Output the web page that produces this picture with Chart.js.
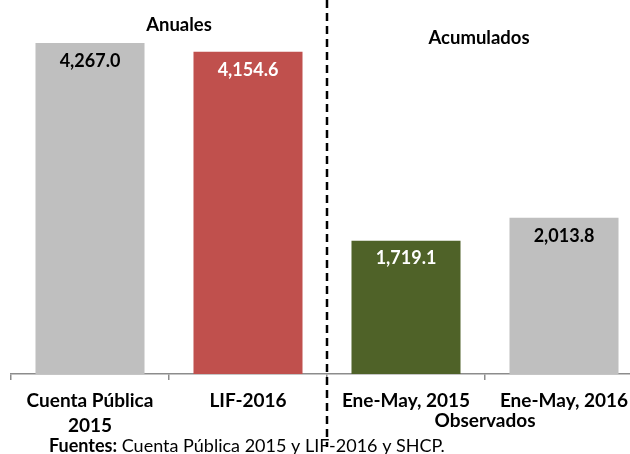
<!DOCTYPE html>
<html>
<head>
  <meta charset="utf-8">
  <title>Anuales y Acumulados</title>
  <style>
    html, body {
      margin: 0;
      padding: 0;
      width: 630px;
      height: 454px;
      overflow: hidden;
      background: #ffffff;
    }
    .chart-container {
      position: relative;
      width: 660px;
      height: 454px;
    }
    canvas {
      display: block;
    }
  </style>
  <script src="https://cdn.jsdelivr.net/npm/chart.js"></script>
</head>
<body>
  <div class="chart-container">
    <canvas id="barChart" width="660" height="454"></canvas>
  </div>
  <script>
    // Chart data
    const categories = [['Cuenta Pública', '2015'], 'LIF-2016', 'Ene-May, 2015', 'Ene-May, 2016'];
    const values = [4267.0, 4154.6, 1719.1, 2013.8];
    const barColors = ['#BFBFBF', '#C0504D', '#4F6228', '#BFBFBF'];
    const labelColors = ['#000000', '#ffffff', '#ffffff', '#000000'];
    const groupLabels = ['Anuales', 'Acumulados', 'Observados'];
    const sourceNote = ['Fuentes:', ' Cuenta Pública 2015 y LIF-2016 y SHCP.'];

    const fontFamily = 'Lato, "Open Sans", sans-serif';

    // Helper to format numbers like 4,267.0
    function formatValue(v) {
      return v.toLocaleString('en-US', { minimumFractionDigits: 1, maximumFractionDigits: 1 });
    }

    // Plugin: value labels inside bars, separators and notes
    const extrasPlugin = {
      id: 'extras',
      afterDatasetsDraw(chart) {
        const ctx = chart.ctx;
        const meta = chart.getDatasetMeta(0);
        ctx.save();
        ctx.font = 'bold 18px ' + fontFamily;
        ctx.textAlign = 'center';
        ctx.textBaseline = 'middle';
        meta.data.forEach((bar, i) => {
          ctx.fillStyle = labelColors[i];
          ctx.fillText(formatValue(values[i]), bar.x, bar.y + 18);
        });
        ctx.restore();
      },
      afterDraw(chart) {
        const ctx = chart.ctx;
        const x = chart.scales.x;
        ctx.save();

        // dashed divider between annual and accumulated
        const divX = Math.round(x.getPixelForValue(1.5));
        ctx.strokeStyle = '#000000';
        ctx.lineWidth = 2.5;
        ctx.setLineDash([8, 5]);
        ctx.beginPath();
        ctx.moveTo(divX, 0);
        ctx.lineTo(divX, 447);
        ctx.stroke();
        ctx.setLineDash([]);

        // group titles
        ctx.fillStyle = '#000000';
        ctx.font = 'bold 18.5px ' + fontFamily;
        ctx.textAlign = 'center';
        ctx.textBaseline = 'alphabetic';
        ctx.fillText(groupLabels[0], 179, 31);
        ctx.fillText(groupLabels[1], 479, 44);
        ctx.font = 'bold 19px ' + fontFamily;
        ctx.fillText(groupLabels[2], x.getPixelForValue(2.5), 427);

        // source note
        ctx.textAlign = 'left';
        ctx.font = 'bold 18px ' + fontFamily;
        ctx.fillText(sourceNote[0], 49, 452);
        const w = ctx.measureText(sourceNote[0]).width;
        ctx.font = '18px ' + fontFamily;
        ctx.fillText(sourceNote[1], 49 + w, 452);

        ctx.restore();
      }
    };

    const ctx = document.getElementById('barChart').getContext('2d');
    new Chart(ctx, {
      type: 'bar',
      data: {
        labels: categories,
        datasets: [{
          data: values,
          backgroundColor: barColors,
          borderWidth: 0,
          categoryPercentage: 1.0,
          barPercentage: 0.69
        }]
      },
      options: {
        responsive: false,
        animation: false,
        layout: {
          padding: { top: 25, left: 11, right: 17, bottom: 0 }
        },
        plugins: {
          legend: { display: false },
          tooltip: { enabled: false }
        },
        scales: {
          x: {
            offset: true,
            afterFit(scale) { scale.height = 80; },
            border: { display: true, color: '#8c8c8c', width: 1.5 },
            grid: {
              offset: true,
              drawOnChartArea: false,
              drawTicks: true,
              tickLength: 6,
              color: '#8c8c8c',
              lineWidth: 1.5
            },
            ticks: {
              color: '#000000',
              padding: 8,
              maxRotation: 0,
              autoSkip: false,
              font: { family: fontFamily, size: 19, weight: 'bold', lineHeight: 1.34 }
            }
          },
          y: {
            display: false,
            min: 0,
            max: 4500
          }
        }
      },
      plugins: [extrasPlugin]
    });
  </script>
</body>
</html>
